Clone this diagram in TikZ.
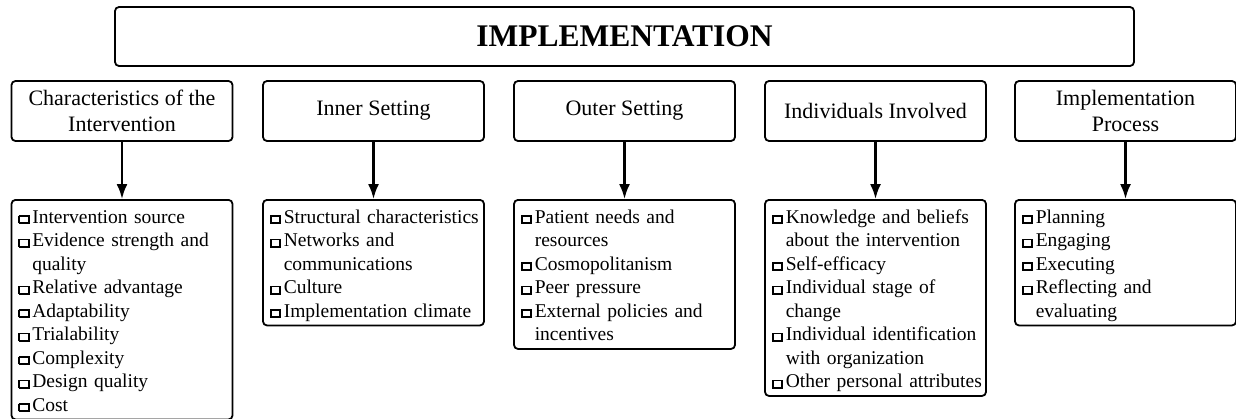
\documentclass[tikz,border=0pt]{standalone}
\usepackage{fontspec}
\setmainfont{Liberation Serif}
\usetikzlibrary{arrows.meta}
\newcommand{\sqb}{\raisebox{1pt}{\setlength{\fboxsep}{0pt}\setlength{\fboxrule}{1.9pt}\fbox{\rule{0pt}{5.5pt}\hspace{7.5pt}}}}
\newcommand{\tstrut}{\rule{0pt}{22.5pt}}
\begin{document}
\begin{tikzpicture}[x=1pt,y=-1pt,
 box/.style={draw=black, line width=1.8pt, rounded corners=4pt},
 head/.style={box, minimum width=221pt, minimum height=60pt, align=center, inner sep=2pt, font=\fontsize{22}{26}\selectfont},
 listbox/.style={box, anchor=north, text width=207pt, inner xsep=7pt, inner ysep=1pt, align=left, font=\fontsize{19.5}{23.5}\selectfont},
 arr/.style={draw=black, line width=2.2pt, -{Latex[length=15pt,width=11pt]}}]
\useasboundingbox (0,0) rectangle (1236,418);

\node[box, minimum width=1019pt, minimum height=59pt, font=\fontsize{31.5}{36}\selectfont\bfseries] (top) at (624.5,36.5) {IMPLEMENTATION};

\node[head] (h1) at (122,111) {Characteristics of the\\Intervention};
\node[head] (h2) at (373.5,111) {Inner Setting};
\node[head] (h3) at (624.5,111) {Outer Setting};
\node[head] (h4) at (875.5,111) {Individuals Involved};
\node[head] (h5) at (1125.5,111) {Implementation\\Process};

\node[listbox] (l1) at (122,199) {\begin{tabular}{@{}l@{\hspace{2.5pt}}l@{}}
\tstrut\sqb & Intervention source\\
\sqb & Evidence strength and\\
 & quality\\
\sqb & Relative advantage\\
\sqb & Adaptability\\
\sqb & Trialability\\
\sqb & Complexity\\
\sqb & Design quality\\
\sqb & Cost
\end{tabular}};

\node[listbox] (l2) at (373.5,199) {\begin{tabular}{@{}l@{\hspace{2.5pt}}l@{}}
\tstrut\sqb & Structural characteristics\\
\sqb & Networks and\\
 & communications\\
\sqb & Culture\\
\sqb & Implementation climate
\end{tabular}};

\node[listbox] (l3) at (624.5,199) {\begin{tabular}{@{}l@{\hspace{2.5pt}}l@{}}
\tstrut\sqb & Patient needs and\\
 & resources\\
\sqb & Cosmopolitanism\\
\sqb & Peer pressure\\
\sqb & External policies and\\
 & incentives
\end{tabular}};

\node[listbox] (l4) at (875.5,199) {\begin{tabular}{@{}l@{\hspace{2.5pt}}l@{}}
\tstrut\sqb & Knowledge and beliefs\\
 & about the intervention\\
\sqb & Self-efficacy\\
\sqb & Individual stage of\\
 & change\\
\sqb & Individual identification\\
 & with organization\\
\sqb & Other personal attributes
\end{tabular}};

\node[listbox] (l5) at (1125.5,199) {\begin{tabular}{@{}l@{\hspace{2.5pt}}l@{}}
\tstrut\sqb & Planning\\
\sqb & Engaging\\
\sqb & Executing\\
\sqb & Reflecting and\\
 & evaluating
\end{tabular}};

\draw[arr] (h1.south) -- (l1.north);
\draw[arr] (h2.south) -- (l2.north);
\draw[arr] (h3.south) -- (l3.north);
\draw[arr] (h4.south) -- (l4.north);
\draw[arr] (h5.south) -- (l5.north);
\end{tikzpicture}
\end{document}
